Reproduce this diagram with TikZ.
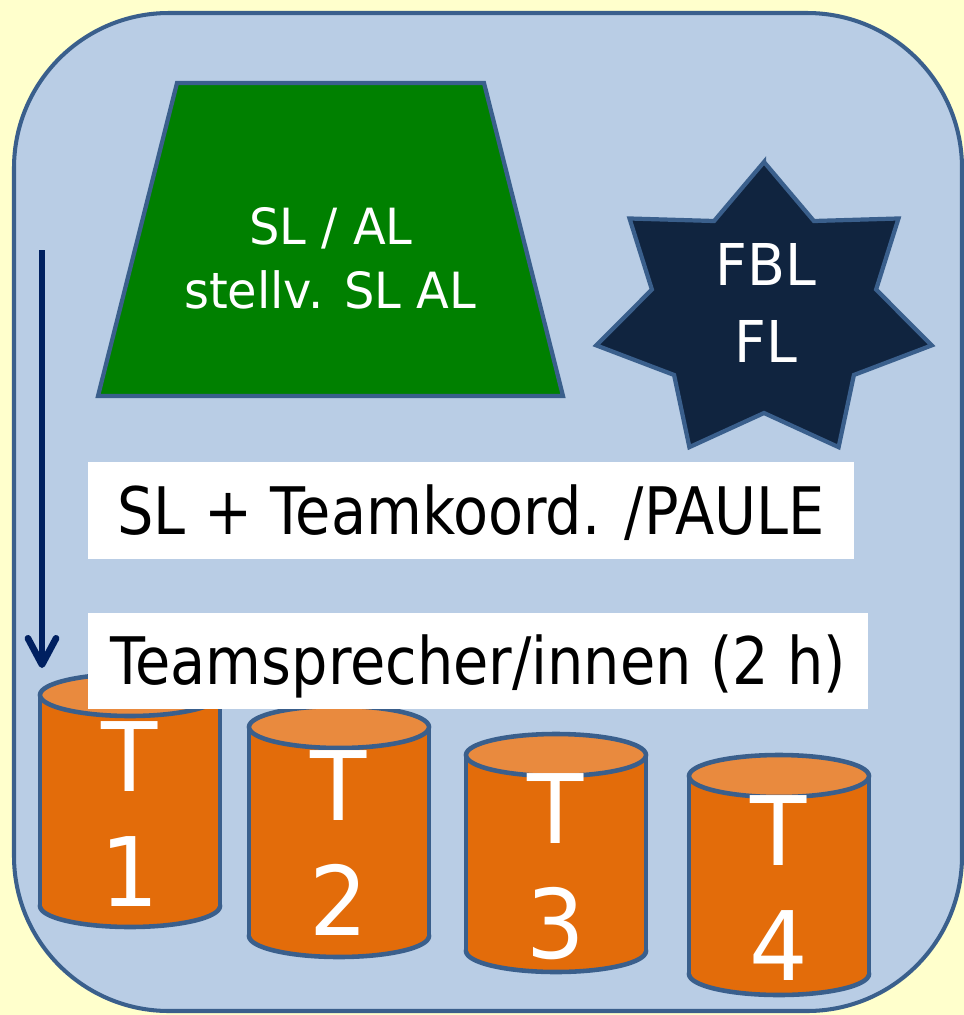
\documentclass[tikz,border=0pt]{standalone}
\usepackage{fontspec}
\setmainfont{DejaVu Sans}[FakeStretch=0.96]
\newfontfamily\boxfont{DejaVu Sans}[FakeStretch=0.875]
\usetikzlibrary{arrows.meta}
\definecolor{bgyellow}{HTML}{FFFFCC}
\definecolor{panelblue}{HTML}{B9CDE5}
\definecolor{borderblue}{HTML}{3A5F8C}
\definecolor{trapgreen}{HTML}{008000}
\definecolor{starnavy}{HTML}{10243F}
\definecolor{orangebody}{HTML}{E36C0A}
\definecolor{orangetop}{HTML}{E98A3E}
\definecolor{arrownavy}{HTML}{002060}
\begin{document}
\begin{tikzpicture}[x=0.02cm,y=-0.02cm,
  panel/.style={fill=panelblue,draw=borderblue,line width=2.3pt,rounded corners=3.1cm},
  shapeline/.style={draw=borderblue,line width=2.4pt,line join=miter},
  cylline/.style={draw=borderblue,line width=2.6pt},
  cylbody/.style={fill=orangebody},
  cyltop/.style={fill=orangetop},
  whitebox/.style={fill=white,inner sep=0pt,text=black,
    font=\boxfont\fontsize{37.3pt}{44pt}\selectfont,text height=27.3pt,text depth=0pt},
  traplbl/.style={text=white,inner sep=0pt,anchor=base,font=\fontsize{28.4pt}{34pt}\selectfont},
  starlbl/.style={text=white,inner sep=0pt,anchor=base,font=\fontsize{32.8pt}{40pt}\selectfont},
  cyllbl/.style={text=white,inner sep=0pt,anchor=base,font=\fontsize{54.6pt}{64pt}\selectfont},
  downarrow/.style={draw=arrownavy,line width=3.8pt,-{Straight Barb[length=15pt,width=16pt,round]}}
]
\fill[bgyellow] (0,0) rectangle (964,1015);
\useasboundingbox (0,0) rectangle (964,1015);
\draw[panel] (14,13) rectangle (962,1011);

% trapezoid
\draw[shapeline,fill=trapgreen] (177,83) -- (484,83) -- (563,396) -- (98,396) -- cycle;
\node[traplbl] (sl1) at (331,244) {SL / AL};
\node[traplbl] (sl2) at (330,308) {stellv. SL AL};

% seven-pointed star
\draw[shapeline,fill=starnavy] (764,162)
  \foreach \k in {0,...,6} {
    -- ({764+115*cos(115.7143+51.4286*\k)},{312-101*sin(115.7143+51.4286*\k)})
    -- ({764+172*cos(141.4286+51.4286*\k)},{312-150*sin(141.4286+51.4286*\k)})
  } -- cycle;
\node[starlbl] (fbl) at (766,285) {FBL};
\node[starlbl] (fl) at (766,362) {FL};

% arrow
\coordinate (a0) at (42,250);
\coordinate (a1) at (42,668);
\draw[downarrow] (a0) -- (a1);

% cylinders
\foreach \cx/\ty/\by in {130/695/906, 339/727/936, 556/755/951, 779/776/974}{
  \filldraw[cylbody,cylline] (\cx,\by) ellipse[x radius=90,y radius=21];
  \fill[cylbody] ({\cx-90},\ty) rectangle ({\cx+90},\by);
  \draw[cylline] ({\cx-90},\ty) -- ({\cx-90},\by);
  \draw[cylline] ({\cx+90},\ty) -- ({\cx+90},\by);
  \filldraw[cyltop,cylline] (\cx,\ty) ellipse[x radius=90,y radius=21];
}

% white boxes
\node[whitebox,minimum width=15.32cm,minimum height=1.94cm] (box1) at (471,510.5) {SL + Teamkoord. /PAULE};
\node[whitebox,minimum width=15.6cm,minimum height=1.92cm] (box2) at (478,661) {Teamsprecher/innen (2 h)};

% cylinder labels
\foreach \cx/\tb/\n in {130/791/1, 339/820/2, 556/843/3, 779/865/4}{
  \node[cyllbl] (t\n) at (\cx,\tb) {T};
  \node[cyllbl] (d\n) at (\cx,{\tb+115}) {\n};
}
\end{tikzpicture}
\end{document}
